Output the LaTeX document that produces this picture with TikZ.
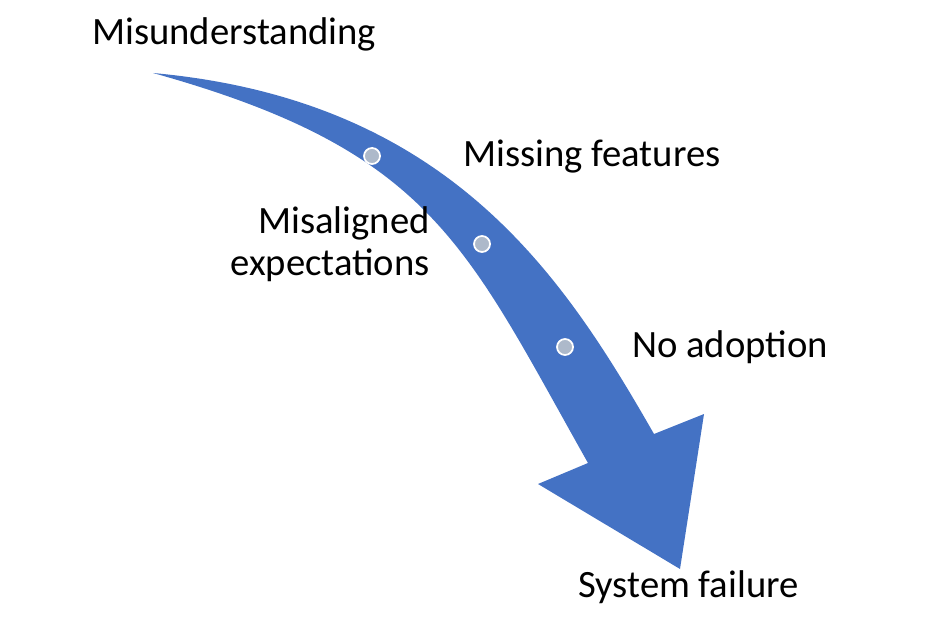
\documentclass[tikz,border=0pt]{standalone}
\usepackage{fontspec}
\setmainfont{Carlito}
\definecolor{arrowblue}{RGB}{68,114,196}
\definecolor{dotgrey}{RGB}{173,185,202}
\definecolor{stagetext}{RGB}{0,0,0}
\tikzset{
  stage/.style={font=\fontsize{22}{24}\selectfont, text=stagetext, inner sep=0pt},
  milestone/.style={circle, fill=dotgrey, draw=white, line width=1pt,
    minimum size=3.2mm, inner sep=0pt},
  bigarrow/.style={fill=arrowblue}
}
\begin{document}
\begin{tikzpicture}[x=0.2mm, y=-0.2mm]
  \useasboundingbox (0,0) rectangle (934,622);

  % curved arrow, tail at top left
  \fill[bigarrow] (153,73) .. controls (450,100) and (564,277) .. (654,434)
    -- (704,414) -- (680,569) -- (538,484) -- (588,463)
    .. controls (465,245) and (433,151) .. (153,73) -- cycle;

  \node[milestone] (m1) at (372,156) {};
  \node[milestone] (m2) at (482,244) {};
  \node[milestone] (m3) at (565,347) {};

  \node[stage, anchor=base west] (start) at (92,45) {Misunderstanding};
  \node[stage, anchor=base west] (missing) at (463,167) {Missing features};
  \node[stage, anchor=north east, align=right] (misalign) at (430,206) {Misaligned\\expectations};
  \node[stage, anchor=base west] (noadopt) at (632,358) {No adoption};
  \node[stage, anchor=base west] (failure) at (578,597) {System failure};
\end{tikzpicture}
\end{document}
